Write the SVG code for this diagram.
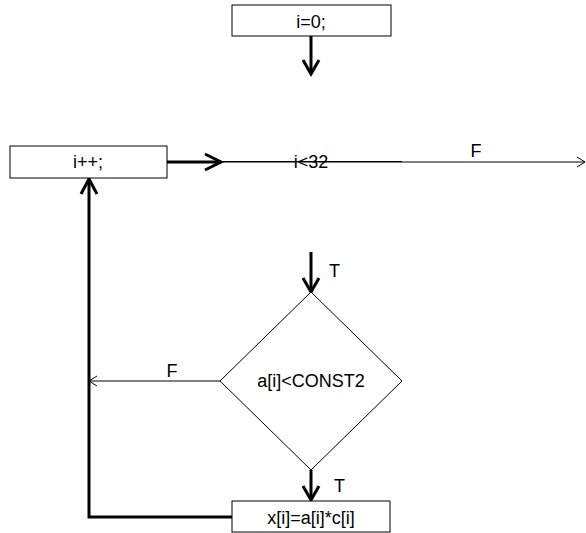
<svg xmlns="http://www.w3.org/2000/svg" width="586" height="533" viewBox="0 0 586 533">
<style>
.box{fill:#fff;stroke:#000;stroke-width:1}
.t{font-family:"Liberation Sans",Arial,sans-serif;font-size:18px;fill:#000}
.c{text-anchor:middle}
.thick{fill:none;stroke:#000;stroke-width:3}
.thin{fill:none;stroke:#000;stroke-width:1}
</style>
<rect width="586" height="533" fill="#fff"/>
<g id="connectors">
<path class="thick" d="M311,36 V74"/>
<path class="thick" d="M303,60 L311,74 L319,60"/>
<path class="thick" d="M167,162 H221"/>
<path class="thick" d="M205,154 L221,162 L205,170"/>
<path class="thin" d="M221,162 H585"/>
<path class="thin" d="M221,161.5 H402" stroke="#333"/>
<path class="thin" d="M577,157 L585,162 L577,167"/>
<text class="t c" x="476" y="157">F</text>
<path class="thick" d="M311,252 V292"/>
<path class="thick" d="M303,278 L311,292 L319,278"/>
<text class="t" x="329" y="277">T</text>
<path class="thin" d="M220,381 H89"/>
<path class="thin" d="M97,376 L89,381 L97,386"/>
<text class="t c" x="172" y="377">F</text>
<path class="thick" d="M311,470 V500"/>
<path class="thick" d="M303,486 L311,500 L319,486"/>
<text class="t" x="334" y="492">T</text>
<path class="thick" d="M232,517 H89 V179"/>
<path class="thick" d="M81,194 L89,179 L97,194"/>
</g>
<g id="init">
<rect class="box" x="232" y="5" width="159" height="31"/>
<text class="t c" x="311" y="28">i=0;</text>
</g>
<g id="incr">
<rect class="box" x="10" y="146" width="157" height="32"/>
<text class="t c" x="88" y="168">i++;</text>
</g>
<g id="cond">
<text class="t c" x="311" y="168">i&lt;32</text>
</g>
<g id="check">
<polygon class="box" points="311,292 402,381 311,470 220,381"/>
<text class="t c" x="311" y="387">a[i]&lt;CONST2</text>
</g>
<g id="assign">
<rect class="box" x="232" y="501" width="158" height="31"/>
<text class="t c" x="311" y="524">x[i]=a[i]*c[i]</text>
</g>
</svg>
